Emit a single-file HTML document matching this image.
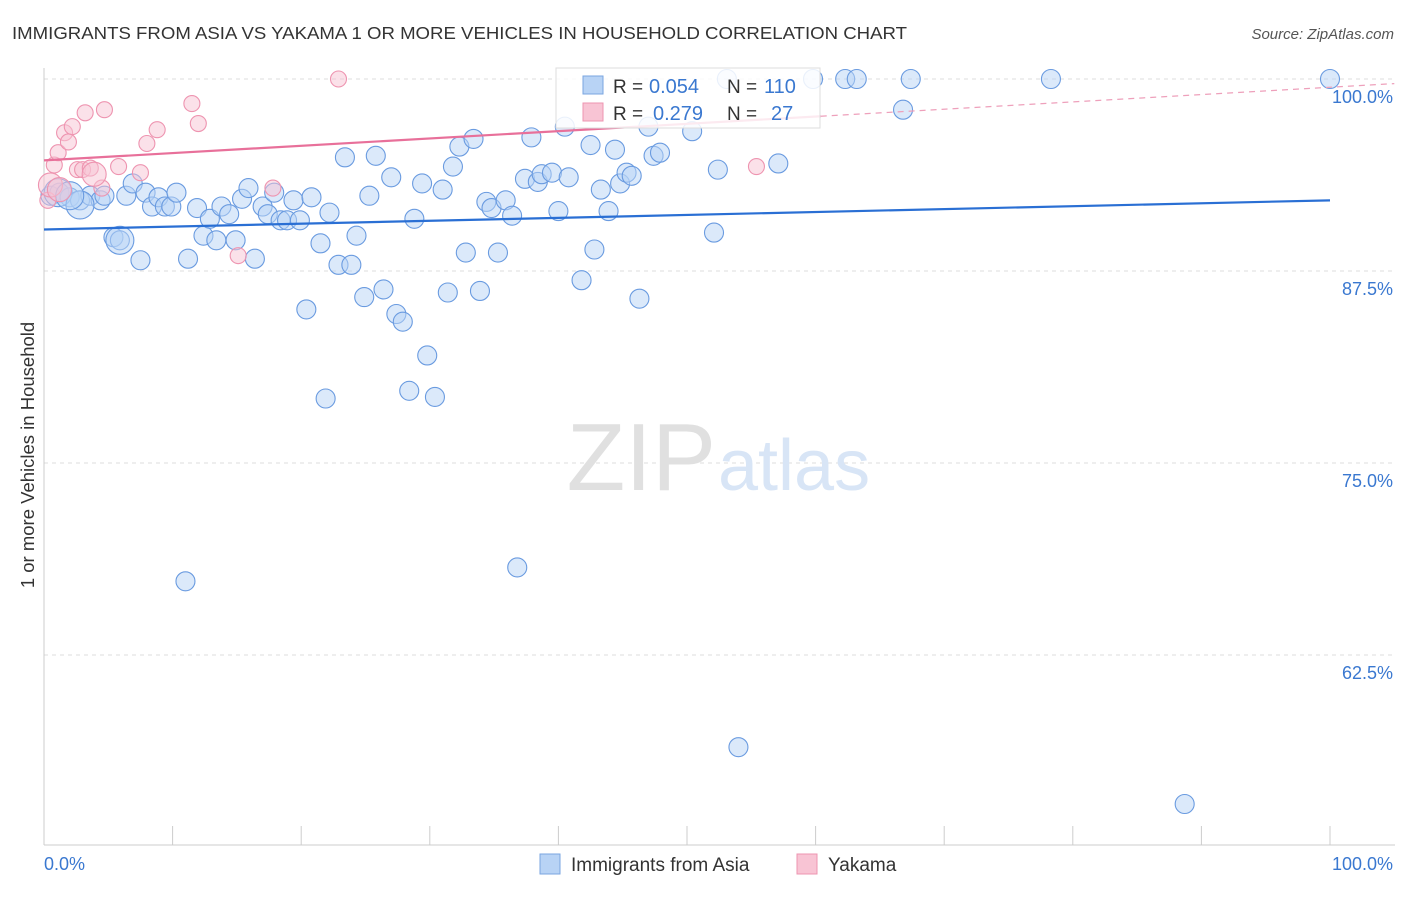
<!DOCTYPE html>
<html><head><meta charset="utf-8"><style>
body{margin:0;background:#fff;font-family:"Liberation Sans",sans-serif}
svg text{font-family:"Liberation Sans",sans-serif}
</style></head><body>
<svg id="c" width="1406" height="892" xmlns="http://www.w3.org/2000/svg">
<text x="12" y="39" font-size="17.5" fill="#333" textLength="895" lengthAdjust="spacingAndGlyphs">IMMIGRANTS FROM ASIA VS YAKAMA 1 OR MORE VEHICLES IN HOUSEHOLD CORRELATION CHART</text>
<text x="1394" y="39" font-size="15" fill="#555" font-style="italic" text-anchor="end">Source: ZipAtlas.com</text>
<text x="34" y="455" font-size="18.5" fill="#333" text-anchor="middle" transform="rotate(-90 34 455)">1 or more Vehicles in Household</text>
<g id="grid"></g>
<text x="716" y="490" font-size="96" fill="#e0e0e0" text-anchor="end" font-family="Liberation Serif">ZIP</text>
<text x="718" y="490" font-size="72" fill="#d8e5f6">atlas</text>
<g id="marks"></g>
<g>
<rect x="556" y="68" width="264" height="60" fill="#fff" fill-opacity="0.85" stroke="#ddd"/>
<rect x="583" y="76" width="20" height="18" fill="#b8d3f5" stroke="#7aa6e0"/>
<rect x="583" y="103" width="20" height="18" fill="#f8c4d4" stroke="#ee94b0"/>
<text x="613" y="93" font-size="19" fill="#333">R =</text>
<text x="649" y="93" font-size="20" fill="#3a78d0">0.054</text>
<text x="727" y="93" font-size="19" fill="#333">N =</text>
<text x="764" y="93" font-size="20" fill="#3a78d0">110</text>
<text x="613" y="120" font-size="19" fill="#333">R =</text>
<text x="653" y="120" font-size="20" fill="#3a78d0">0.279</text>
<text x="727" y="120" font-size="19" fill="#333">N =</text>
<text x="771" y="120" font-size="20" fill="#3a78d0">27</text>
</g>
<g>
<rect x="540" y="854" width="20" height="20" fill="#b8d3f5" stroke="#7aa6e0"/>
<text x="571" y="871" font-size="19" fill="#333">Immigrants from Asia</text>
<rect x="797" y="854" width="20" height="20" fill="#f8c4d4" stroke="#ee94b0"/>
<text x="828" y="871" font-size="19" fill="#333">Yakama</text>
</g>
</svg>
<script>
const yTicks=[100,87.5,75,62.5];
const yTickLabels=["100.0%","87.5%","75.0%","62.5%"];
const xLabels=["0.0%","100.0%"];
const blueX=[0.5,1.2,2.0,2.8,3.6,4.4,4.7,5.4,5.9,6.4,6.9,7.5,7.9,8.4,8.9,9.4,9.9,10.3,11.2,11.9,12.4,12.9,13.4,13.8,14.4,14.9,15.4,15.9,16.4,17.0,17.4,17.9,18.4,18.9,19.4,19.9,20.4,20.8,21.5,21.9,22.2,22.9,23.4,23.9,24.3,24.9,25.3,25.8,26.4,27.0,27.4,27.9,28.4,28.8,29.4,29.8,30.4,31.0,31.4,31.8,32.3,32.8,33.4,33.9,34.4,34.8,35.3,35.9,36.4,36.8,37.4,37.9,38.4,38.7,39.5,40.0,40.5,40.8,41.8,42.5,42.8,43.3,43.9,44.4,44.8,45.3,45.7,46.3,47.0,47.4,47.9,50.4,52.1,52.4,53.1,54.0,57.1,59.8,62.3,63.2,66.8,67.4,78.3,88.7,100,11.0,1.1,2.8,2.0,5.9];
const blueY=[92.4,92.6,92.3,92.1,92.4,92.1,92.4,89.7,89.5,92.4,93.2,88.2,92.6,91.7,92.3,91.7,91.7,92.6,88.3,91.6,89.8,90.9,89.5,91.7,91.2,89.5,92.2,92.9,88.3,91.7,91.2,92.6,90.8,90.8,92.1,90.8,85.0,92.3,89.3,79.2,91.3,87.9,94.9,87.9,89.8,85.8,92.4,95.0,86.3,93.6,84.7,84.2,79.7,90.9,93.2,82.0,79.3,92.8,86.1,94.3,95.6,88.7,96.1,86.2,92.0,91.6,88.7,92.1,91.1,68.2,93.5,96.2,93.3,93.8,93.9,91.4,96.9,93.6,86.9,95.7,88.9,92.8,91.4,95.4,93.2,93.9,93.7,85.7,96.9,95.0,95.2,96.6,90.0,94.1,100,56.5,94.5,100,100,100,98.0,100,100,52.8,100,67.3,92.6,91.8,92.4,89.5];
const pinkX=[0.3,0.8,1.1,1.6,1.9,2.2,2.6,3.0,3.2,3.6,4.5,4.7,5.8,7.5,8.0,8.8,11.5,12.0,15.1,17.8,22.9,55.4,0.5,1.2,3.9];
const pinkY=[92.1,94.4,95.2,96.5,95.9,96.9,94.1,94.1,97.8,94.2,92.9,98.0,94.3,93.9,95.8,96.7,98.4,97.1,88.5,92.9,100,94.3,93.1,92.8,93.8];
const blueLine=[90.2,92.1];
const pinkLine=[94.7,99.7];
const X0=44,X1=1330,Y100=79,PX=192/12.5;
const sx=v=>X0+(X1-X0)*v/100, sy=v=>Y100+(100-v)*PX;
const NS="http://www.w3.org/2000/svg";
function mk(t,a,p){const e=document.createElementNS(NS,t);for(const k in a)e.setAttribute(k,a[k]);p.appendChild(e);return e;}
const g=document.getElementById('grid'), m=document.getElementById('marks');
yTicks.forEach((t,i)=>{
 const l=mk('line',{x1:X0,x2:1395,y1:sy(t),y2:sy(t),stroke:'#ddd','stroke-dasharray':'4 4'},g);
 
 
 const tx=mk('text',{x:1393,y:sy(t)+24,'font-size':18,fill:'#3a78d0','text-anchor':'end'},g);
 tx.textContent=yTickLabels[i];
 
 
});
const ax=mk('line',{x1:X0,x2:X0,y1:68,y2:845,stroke:'#ccc'},g);


const bx=mk('line',{x1:X0,x2:1395,y1:845,y2:845,stroke:'#ccc'},g);


for(let i=0;i<=10;i++){const t=mk('line',{x1:sx(i*10),x2:sx(i*10),y1:826,y2:845,stroke:'#ccc'},g);
 
 }
xLabels.forEach((s,i)=>{const t=mk('text',{x:i?1393:44,y:870,'font-size':18,fill:'#3a78d0','text-anchor':i?'end':'start'},g);t.textContent=s;
 
 });
blueX.forEach((x,i)=>{const r=i>=blueX.length-4?14:9.5;
 const c=mk('circle',{cx:sx(x),cy:sy(blueY[i]),r:r,fill:'#b8d3f5','fill-opacity':0.5,stroke:'#6a9be0','stroke-width':1.1},m);
 
 });
pinkX.forEach((x,i)=>{const c=mk('circle',{cx:sx(x),cy:sy(pinkY[i]),r:i>=22?12:8,fill:'#f8c4d4','fill-opacity':0.5,stroke:'#ee94b0','stroke-width':1.1},m);
 
 });
const bl=mk('line',{x1:sx(0),y1:sy(blueLine[0]),x2:sx(100),y2:sy(blueLine[1]),stroke:'#2a6fd4','stroke-width':2.2},m);


const pm=(v)=>pinkLine[0]+(pinkLine[1]-pinkLine[0])*v/105;
const pl=mk('line',{x1:sx(0),y1:sy(pm(0)),x2:sx(60.4),y2:sy(pm(60.4)),stroke:'#e8709a','stroke-width':2.2},m);


const pd=mk('line',{x1:sx(60.4),y1:sy(pm(60.4)),x2:sx(105),y2:sy(pm(105)),stroke:'#eea0bb','stroke-width':1.2,'stroke-dasharray':'6 5'},m);


</script>
</body></html>
